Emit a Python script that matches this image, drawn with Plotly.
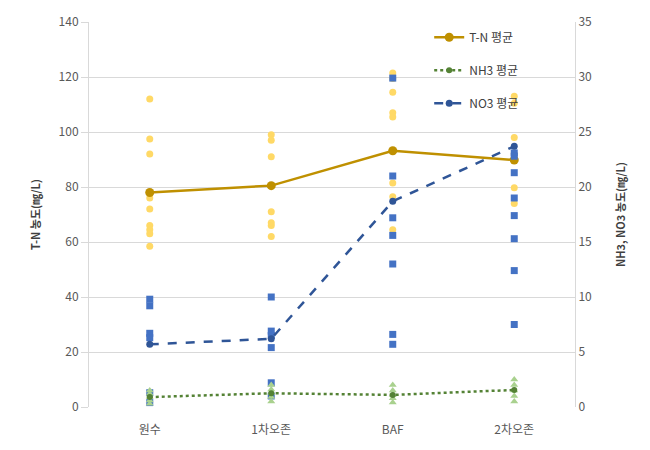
import plotly.graph_objects as go

categories = ["원수", "1차오존", "BAF", "2차오존"]

tn_points = [
    [112, 97.5, 92, 76, 72, 66, 64.5, 63, 58.5],
    [99, 97, 91, 71, 67, 66, 62],
    [121.5, 119.5, 114.5, 107, 105.5, 81.5, 76.5, 64.5],
    [113, 110.5, 98, 92, 79.7, 74],
]
no3_points = [
    [9.8, 9.2, 6.7, 6.3, 1.3, 0.4],
    [10.0, 6.9, 6.5, 5.4, 2.2, 1.0],
    [29.9, 21.0, 17.2, 15.6, 13.0, 6.6, 5.7],
    [23.1, 22.8, 21.3, 19.0, 17.4, 15.3, 12.4, 7.5],
]
nh3_points = [
    [0.3, 0.6, 0.9, 1.2, 1.5],
    [0.5, 0.9, 1.3, 1.6, 2.0],
    [0.4, 0.8, 1.1, 1.5, 2.0],
    [0.5, 1.0, 1.5, 2.0, 2.5],
]

# averages
tn_mean = [78, 80.5, 93.2, 89.8]
nh3_mean = [0.9, 1.25, 1.1, 1.55]
no3_mean = [5.7, 6.2, 18.7, 23.7]

font_family = "Noto Sans CJK KR"


def flatten(points):
    xs, ys = [], []
    for cat, vals in zip(categories, points):
        for v in vals:
            xs.append(cat)
            ys.append(v)
    return xs, ys


fig = go.Figure()

x, y = flatten(tn_points)
fig.add_trace(go.Scatter(x=x, y=y, mode="markers", showlegend=False,
                         marker=dict(symbol="circle", size=7, color="#FFD966"),
                         yaxis="y"))
x, y = flatten(no3_points)
fig.add_trace(go.Scatter(x=x, y=y, mode="markers", showlegend=False,
                         marker=dict(symbol="square", size=7, color="#4472C4"),
                         yaxis="y2"))
x, y = flatten(nh3_points)
fig.add_trace(go.Scatter(x=x, y=y, mode="markers", showlegend=False,
                         marker=dict(symbol="triangle-up", size=7, color="#A9D18E"),
                         yaxis="y2"))

fig.add_trace(go.Scatter(x=categories, y=tn_mean, mode="lines+markers", name="T-N 평균",
                         line=dict(color="#BF9000", width=2.5),
                         marker=dict(symbol="circle", size=9, color="#BF9000"),
                         legendgroup="a", yaxis="y"))
fig.add_trace(go.Scatter(x=categories, y=nh3_mean, mode="lines+markers", name="NH3 평균",
                         line=dict(color="#548235", width=2.5, dash="dot"),
                         marker=dict(symbol="circle", size=6, color="#548235"),
                         legendgroup="b", yaxis="y2"))
fig.add_trace(go.Scatter(x=categories, y=no3_mean, mode="lines+markers", name="NO3 평균",
                         line=dict(color="#2F5597", width=2.5, dash="dash"),
                         marker=dict(symbol="circle", size=7, color="#2F5597"),
                         legendgroup="c", yaxis="y2"))

fig.update_layout(
    width=650, height=450,
    margin=dict(l=89, r=75, t=17, b=43),
    paper_bgcolor="white", plot_bgcolor="white",
    font=dict(family=font_family, size=12, color="#595959"),
    xaxis=dict(type="category", categoryorder="array", categoryarray=categories,
               range=[-0.5, 3.5], showgrid=False, showline=False, zeroline=False,
               ticks="", ticklabelstandoff=14, tickfont=dict(size=12, color="#595959")),
    yaxis=dict(range=[0, 140], dtick=20, showgrid=True, gridcolor="#D9D9D9",
               gridwidth=1, zeroline=False, showline=True, linecolor="#D9D9D9",
               ticks="outside", ticklen=7, tickcolor="#D9D9D9",
               title=dict(text="T-N 농도(㎎/L)", standoff=15,
                          font=dict(size=11, color="#404040", family=font_family, weight="bold")),
               tickfont=dict(size=12, color="#595959")),
    yaxis2=dict(range=[0, 35], dtick=5, overlaying="y", side="right",
                showgrid=False, zeroline=False, showline=True, linecolor="#D9D9D9",
                ticks="", ticklen=0,
                title=dict(text="NH3, NO3 농도(㎎/L)", standoff=26,
                           font=dict(size=11, color="#404040", family=font_family, weight="bold")),
                tickfont=dict(size=12, color="#595959")),
    legend=dict(x=0.70, y=0.998, xanchor="left", yanchor="top",
                bgcolor="rgba(0,0,0,0)", tracegroupgap=14,
                font=dict(size=12, color="#404040")),
)

fig.write_html("out.html")
